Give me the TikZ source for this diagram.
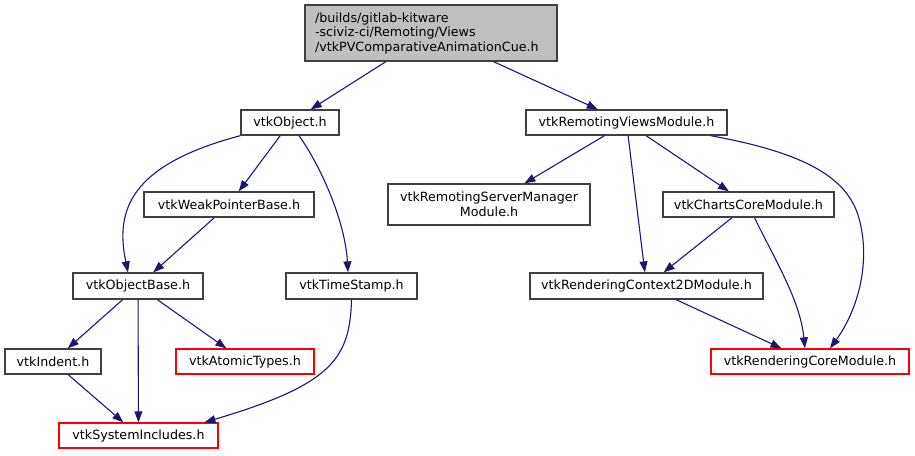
\documentclass[tikz,border=0pt]{standalone}
\usepackage{fontspec}
\setmainfont{DejaVu Sans}
\usetikzlibrary{arrows.meta}
\definecolor{edgeblue}{HTML}{191970}
\definecolor{boxgray}{HTML}{404040}
\definecolor{rootfill}{HTML}{BFBFBF}
\begin{document}
\begin{tikzpicture}[x=1pt,y=-1pt,
  every node/.style={font=\fontsize{12.7}{14.5}\selectfont, inner sep=0pt},
  filebox/.style={draw=boxgray, line width=1.3pt, fill=white, minimum height=25pt},
  redbox/.style={draw=red, line width=1.3pt, fill=white, minimum height=25pt},
  dep/.style={draw=edgeblue, line width=1.1pt, -{Triangle[length=11pt,width=8pt]}}]
\useasboundingbox (0,0) rectangle (915,455);
% nodes
\node[filebox, fill=rootfill, minimum width=252pt, minimum height=56pt, text width=232pt, align=left] (root) at (431,33)
  {/builds/gitlab-kitware\\-sciviz-ci/Remoting/Views\\/vtkPVComparativeAnimationCue.h};
\node[filebox, minimum width=98pt] (obj) at (290,122.5) {vtkObject.h};
\node[filebox, minimum width=201pt] (rvm) at (626.5,122.5) {vtkRemotingViewsModule.h};
\node[filebox, minimum width=170pt] (wpb) at (229,204.5) {vtkWeakPointerBase.h};
\node[filebox, minimum width=202pt, minimum height=41pt, align=center] (rsm) at (489,204.5) {vtkRemotingServerManager\\Module.h};
\node[filebox, minimum width=171pt] (ccm) at (748.5,204.5) {vtkChartsCoreModule.h};
\node[filebox, minimum width=130pt, minimum height=26pt] (ob) at (138,286) {vtkObjectBase.h};
\node[filebox, minimum width=131pt, minimum height=26pt] (ts) at (351.5,286) {vtkTimeStamp.h};
\node[filebox, minimum width=233pt, minimum height=26pt] (rc2d) at (646.5,286) {vtkRenderingContext2DModule.h};
\node[filebox, minimum width=96pt] (ind) at (53,361.5) {vtkIndent.h};
\node[redbox, minimum width=138pt] (at) at (245,361.5) {vtkAtomicTypes.h};
\node[redbox, minimum width=198pt] (rcm) at (810,361.5) {vtkRenderingCoreModule.h};
\node[redbox, minimum width=159pt] (si) at (138.5,435.5) {vtkSystemIncludes.h};
% edges
\draw[dep] (root) -- (obj);
\draw[dep] (root) -- (rvm);
\draw[dep] (obj.south west) .. controls (130,165) and (115,210) .. ([xshift=-10pt]ob.north);
\draw[dep] (obj) -- (wpb);
\draw[dep] ([xshift=9pt]obj.south) .. controls (320,165) and (345,220) .. ([xshift=-3.5pt]ts.north);
\draw[dep] (wpb) -- (ob);
\draw[dep] (ob) -- (ind);
\draw[dep] (ob) -- (si);
\draw[dep] (ob) -- (at);
\draw[dep] (ind) -- (si);
\draw[dep] (ts.south) .. controls (350,360) and (330,385) .. ([xshift=66pt]si.north);
\draw[dep] (rvm) -- (rsm);
\draw[dep] (rvm) -- (rc2d);
\draw[dep] (rvm) -- (ccm);
\draw[dep] ([xshift=84pt]rvm.south) .. controls (800,152) and (845,175) .. (858,215) .. controls (872,260) and (858,310) .. ([xshift=20pt]rcm.north);
\draw[dep] (ccm) -- (rc2d);
\draw[dep] ([xshift=6pt]ccm.south) .. controls (775,260) and (800,300) .. ([xshift=-5pt]rcm.north);
\draw[dep] (rc2d) -- (rcm);
\end{tikzpicture}
\end{document}
